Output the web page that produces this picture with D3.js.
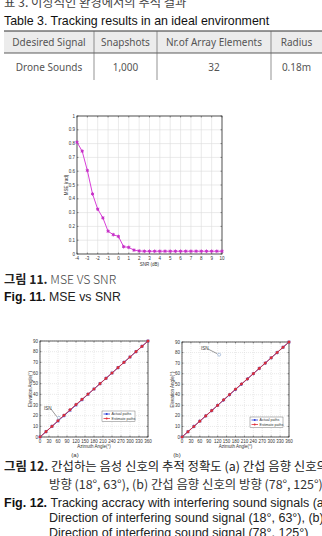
<!DOCTYPE html>
<html>
<head>
<meta charset="utf-8">
<script src="https://cdn.jsdelivr.net/npm/d3@7"></script>
<style>
  html, body { margin: 0; padding: 0; background: #fff; overflow: hidden; }
  text { font-family: "Liberation Sans", Arial, sans-serif; }
  .kr { font-family: "Noto Sans CJK KR", sans-serif; }
  .tick-label { font-size: 4.5px; fill: #333; }
</style>
</head>
<body>
<div id="canvas"></div>
<script>
const W = 322, H = 536;

// table 3
const tableHeaders = ["Ddesired Signal", "Snapshots", "Nr.of Array Elements", "Radius"];
const tableRow = ["Drone Sounds", "1,000", "32", "0.18m"];

// fig 11
const snr = [-4, -3.5, -3, -2.5, -2, -1.5, -1, -0.5, 0, 0.5, 1, 1.5, 2, 2.5, 3, 3.5, 4, 4.5, 5, 5.5, 6, 6.5, 7, 7.5, 8, 8.5, 9, 9.5, 10];
const mse = [0.81, 0.745, 0.605, 0.435, 0.325, 0.262, 0.165, 0.14, 0.127, 0.053, 0.048, 0.028, 0.022, 0.02, 0.02, 0.02, 0.02, 0.02, 0.02, 0.02, 0.02, 0.02, 0.02, 0.02, 0.02, 0.02, 0.02, 0.02, 0.02];
const snrTicks = [-4, -3, -2, -1, 0, 1, 2, 3, 4, 5, 6, 7, 8, 9, 10];
const mseTicks = [0, 0.1, 0.2, 0.3, 0.4, 0.5, 0.6, 0.7, 0.8, 0.9, 1];

// fig 12
const azimuth = [0, 20, 40, 60, 80, 100, 120, 140, 160, 180, 200, 220, 240, 260, 280, 300, 320, 340, 360];
const actualElev = [0, 5, 10, 15, 20, 25, 30, 35, 40, 45, 50, 55, 60, 65, 70, 75, 80, 85, 90];
const estElevA = [0, 5, 10, 15.3, 20.4, 25.5, 30.4, 35.3, 40.2, 45, 50, 55, 60, 65, 70, 75, 80, 85, 90];
const estElevB = [0, 5, 10, 15, 20, 25, 30, 35.2, 40.3, 45.3, 50.2, 55, 60, 65, 70, 75, 80, 85, 90];
const azTicks = [0, 30, 60, 90, 120, 150, 180, 210, 240, 270, 300, 330, 360];
const elTicks = [0, 10, 20, 30, 40, 50, 60, 70, 80, 90];
const interfA = { az: 63, el: 18 };
const interfB = { az: 125, el: 78 };
const legendNames = ["Actual paths", "Estimate paths"];

const svg = d3.select("#canvas").append("svg")
  .attr("width", W).attr("height", H);

// ---------- table caption + table ----------
svg.append("text").attr("class", "kr")
  .attr("x", 4).attr("y", 7)
  .style("font-size", "12.3px").style("fill", "#444")
  .text("표 3. 이상적인 환경에서의 추적 결과");
svg.append("text")
  .attr("x", 4).attr("y", 25)
  .style("font-size", "12.4px").style("fill", "#111")
  .text("Table 3. Tracking results in an ideal environment");

const cols = [4, 94, 157, 271, 322];
const tTop = 31, tMid = 53, tBot = 80;
svg.append("rect").attr("x", 4).attr("y", tTop).attr("width", 318).attr("height", tMid - tTop)
  .style("fill", "#ececec");
[tTop, tMid].forEach(function(y, i){
  svg.append("line").attr("x1", 4).attr("x2", 322).attr("y1", y).attr("y2", y)
    .style("stroke", "#333").style("stroke-width", i === 0 ? 1.2 : 0.8);
});
cols.slice(1, 4).forEach(function(x){
  svg.append("line").attr("x1", x).attr("x2", x).attr("y1", tTop).attr("y2", tBot)
    .style("stroke", "#666").style("stroke-width", 0.7);
});
[tableHeaders, tableRow].forEach(function(row, r){
  row.forEach(function(t, i){
    svg.append("text")
      .attr("x", (cols[i] + cols[i + 1]) / 2)
      .attr("y", r === 0 ? 45.5 : 70.5)
      .attr("text-anchor", "middle")
      .style("font-family", "'Noto Sans', sans-serif")
      .style("font-size", "10px").style("fill", "#555")
      .text(t);
  });
});

// ---------- helper: MATLAB-ish plot frame ----------
function frame(g, x, y, xt, yt, fmtX, fmtY, gridDash){
  const [x0, x1] = x.range(), [y0, y1] = y.range();
  g.append("g").selectAll("line").data(xt).enter().append("line")
    .attr("x1", d => x(d)).attr("x2", d => x(d)).attr("y1", y0).attr("y2", y1)
    .style("stroke", "#dcdcdc").style("stroke-width", 0.6).style("stroke-dasharray", gridDash);
  g.append("g").selectAll("line").data(yt).enter().append("line")
    .attr("y1", d => y(d)).attr("y2", d => y(d)).attr("x1", x0).attr("x2", x1)
    .style("stroke", "#dcdcdc").style("stroke-width", 0.6).style("stroke-dasharray", gridDash);
  // inward ticks
  g.append("g").selectAll("line").data(xt).enter().append("line")
    .attr("x1", d => x(d)).attr("x2", d => x(d)).attr("y1", y0).attr("y2", y0 - 1.5)
    .style("stroke", "#333").style("stroke-width", 0.5);
  g.append("g").selectAll("line").data(xt).enter().append("line")
    .attr("x1", d => x(d)).attr("x2", d => x(d)).attr("y1", y1).attr("y2", y1 + 1.5)
    .style("stroke", "#333").style("stroke-width", 0.5);
  g.append("g").selectAll("line").data(yt).enter().append("line")
    .attr("y1", d => y(d)).attr("y2", d => y(d)).attr("x1", x0).attr("x2", x0 + 1.5)
    .style("stroke", "#333").style("stroke-width", 0.5);
  g.append("g").selectAll("line").data(yt).enter().append("line")
    .attr("y1", d => y(d)).attr("y2", d => y(d)).attr("x1", x1).attr("x2", x1 - 1.5)
    .style("stroke", "#333").style("stroke-width", 0.5);
  g.append("rect").attr("x", x0).attr("y", y1).attr("width", x1 - x0).attr("height", y0 - y1)
    .style("fill", "none").style("stroke", "#333").style("stroke-width", 0.8);
  g.append("g").selectAll("text").data(xt).enter().append("text")
    .attr("class", "tick-label").attr("x", d => x(d)).attr("y", y0 + 5.5)
    .attr("text-anchor", "middle").text(fmtX);
  g.append("g").selectAll("text").data(yt).enter().append("text")
    .attr("class", "tick-label").attr("x", x0 - 2).attr("y", d => y(d) + 1.5)
    .attr("text-anchor", "end").text(fmtY);
}

// ---------- fig 11 ----------
const x11 = d3.scaleLinear().domain([-4, 10]).range([77, 222]);
const y11 = d3.scaleLinear().domain([0, 1]).range([254, 116]);
const g11 = svg.append("g");
frame(g11, x11, y11, snrTicks, mseTicks, d => d, d => d3.format("~g")(d), null);
g11.append("text").attr("class", "tick-label").attr("x", 149.5).attr("y", 266)
  .attr("text-anchor", "middle").text("SNR (dB)");
g11.append("text").attr("class", "tick-label")
  .attr("transform", "translate(68,185) rotate(-90)")
  .attr("text-anchor", "middle").text("MSE (rad)");
const msePts = snr.map((s, i) => [s, mse[i]]);
g11.append("path").datum(msePts)
  .attr("d", d3.line().x(d => x11(d[0])).y(d => y11(d[1])))
  .style("fill", "none").style("stroke", "#d93fd9").style("stroke-width", 1);
g11.append("g").selectAll("path").data(msePts).enter().append("path")
  .attr("transform", d => "translate(" + x11(d[0]) + "," + y11(d[1]) + ")")
  .attr("d", d3.symbol().type(d3.symbolAsterisk).size(9))
  .style("fill", "none").style("stroke", "#c52fc5").style("stroke-width", 0.9);
g11.append("g").selectAll("circle").data(msePts).enter().append("circle")
  .attr("cx", d => x11(d[0])).attr("cy", d => y11(d[1])).attr("r", 1.1)
  .style("fill", "#c52fc5");

svg.append("text").attr("x", 4).attr("y", 284).style("font-size", "12.2px")
  .call(t => {
    t.append("tspan").attr("class", "kr").style("fill", "#222").style("font-weight", 600).text("그림 11. ");
    t.append("tspan").attr("class", "kr").style("fill", "#444").style("font-weight", 300).text("MSE VS SNR");
  });
svg.append("text").attr("x", 4).attr("y", 300.5).style("font-size", "12.3px")
  .call(t => {
    t.append("tspan").style("font-weight", "bold").style("fill", "#111").text("Fig. 11. ");
    t.append("tspan").style("fill", "#222").text("MSE vs SNR");
  });

// ---------- fig 12 ----------
function trackPlot(x0, x1, y1, est, interf, labelPos, legendPos, tag, tagX){
  const x = d3.scaleLinear().domain([0, 360]).range([x0, x1]);
  const y = d3.scaleLinear().domain([0, 90]).range([437, y1]);
  const g = svg.append("g");
  frame(g, x, y, azTicks, elTicks, d => d, d => d, "1,1");
  g.append("text").attr("class", "tick-label").attr("x", (x0 + x1) / 2).attr("y", 447.5)
    .attr("text-anchor", "middle").text("Azimuth Angle(°)");
  g.append("text").attr("class", "tick-label")
    .attr("transform", "translate(" + (x0 - 8) + "," + ((437 + y1) / 2) + ") rotate(-90)")
    .attr("text-anchor", "middle").text("Elevation Angle(°)");

  const act = azimuth.map((a, i) => [a, actualElev[i]]);
  const es = azimuth.map((a, i) => [a, est[i]]);
  const line = d3.line().x(d => x(d[0])).y(d => y(d[1]));
  g.append("path").datum(act).attr("d", line)
    .style("fill", "none").style("stroke", "#2b3fd6").style("stroke-width", 1);
  g.append("g").selectAll("path").data(act).enter().append("path")
    .attr("transform", d => "translate(" + x(d[0]) + "," + y(d[1]) + ")")
    .attr("d", d3.symbol().type(d3.symbolAsterisk).size(8))
    .style("fill", "none").style("stroke", "#2b3fd6").style("stroke-width", 0.8);
  g.append("path").datum(es).attr("d", line)
    .style("fill", "none").style("stroke", "#e0303a").style("stroke-width", 0.9);
  g.append("g").selectAll("circle").data(es).enter().append("circle")
    .attr("cx", d => x(d[0])).attr("cy", d => y(d[1])).attr("r", 1.3)
    .style("fill", "#e0303a").style("stroke", "#b8202a").style("stroke-width", 0.3);

  // interference marker
  const ix = x(interf.az), iy = y(interf.el);
  g.append("circle").attr("cx", ix).attr("cy", iy).attr("r", 1.5)
    .style("fill", "none").style("stroke", "#6a8fbf").style("stroke-width", 0.5);
  g.append("line").attr("x1", labelPos[0] + 7).attr("y1", labelPos[1] - 1)
    .attr("x2", ix - 2).attr("y2", iy - 1)
    .style("stroke", "#333").style("stroke-width", 0.5);
  g.append("text").attr("class", "tick-label").attr("x", labelPos[0]).attr("y", labelPos[1])
    .text("ISN");

  // legend
  const lg = g.append("g").attr("transform", "translate(" + legendPos[0] + "," + legendPos[1] + ")");
  lg.append("rect").attr("width", 33).attr("height", 10.5)
    .style("fill", "#fff").style("stroke", "#555").style("stroke-width", 0.4);
  legendNames.forEach(function(n, i){
    const c = i === 0 ? "#2b3fd6" : "#e0303a";
    lg.append("line").attr("x1", 1.5).attr("x2", 8).attr("y1", 3 + i * 4.5).attr("y2", 3 + i * 4.5)
      .style("stroke", c).style("stroke-width", 0.8);
    lg.append("circle").attr("cx", 4.7).attr("cy", 3 + i * 4.5).attr("r", 1).style("fill", c);
    lg.append("text").attr("x", 9.5).attr("y", 4.3 + i * 4.5)
      .style("font-size", "3.6px").style("fill", "#333").text(n);
  });

  svg.append("text").attr("x", tagX).attr("y", 457)
    .attr("text-anchor", "middle").style("font-size", "6px").style("fill", "#333").text(tag);
}
trackPlot(40, 148, 341, estElevA, interfA, [44, 410], [102, 411], "(a)", 75);
trackPlot(182, 289, 342, estElevB, interfB, [201, 350], [250, 417], "(b)", 177);

// ---------- fig 12 caption ----------
const capKr = [
  { x: 4, y: 470.5, parts: [["그림 12. ", 600, "#222"], ["간섭하는 음성 신호의 추적 정확도  (a) 간섭 음향 신호의", 400, "#222"]] },
  { x: 49, y: 489, parts: [["방향 (18°, 63°), (b) 간섭 음향 신호의 방향 (78°, 125°)", 400, "#333"]] }
];
capKr.forEach(function(l){
  const t = svg.append("text").attr("class", "kr").attr("x", l.x).attr("y", l.y).style("font-size", "12.4px");
  l.parts.forEach(p => t.append("tspan").style("font-weight", p[1]).style("fill", p[2]).text(p[0]));
});
const capEn = [
  { x: 4, y: 506.5, bold: "Fig. 12. ", rest: "Tracking accracy with interfering sound signals  (a)" },
  { x: 49, y: 521.5, bold: "", rest: "Direction of interfering sound signal (18°, 63°), (b)" },
  { x: 49, y: 536.5, bold: "", rest: "Direction of interfering sound signal (78°, 125°)" }
];
capEn.forEach(function(l){
  const t = svg.append("text").attr("x", l.x).attr("y", l.y).style("font-size", "12.5px");
  if (l.bold) t.append("tspan").style("font-weight", "bold").style("fill", "#111").text(l.bold);
  t.append("tspan").style("fill", "#222").text(l.rest);
});
</script>
</body>
</html>
